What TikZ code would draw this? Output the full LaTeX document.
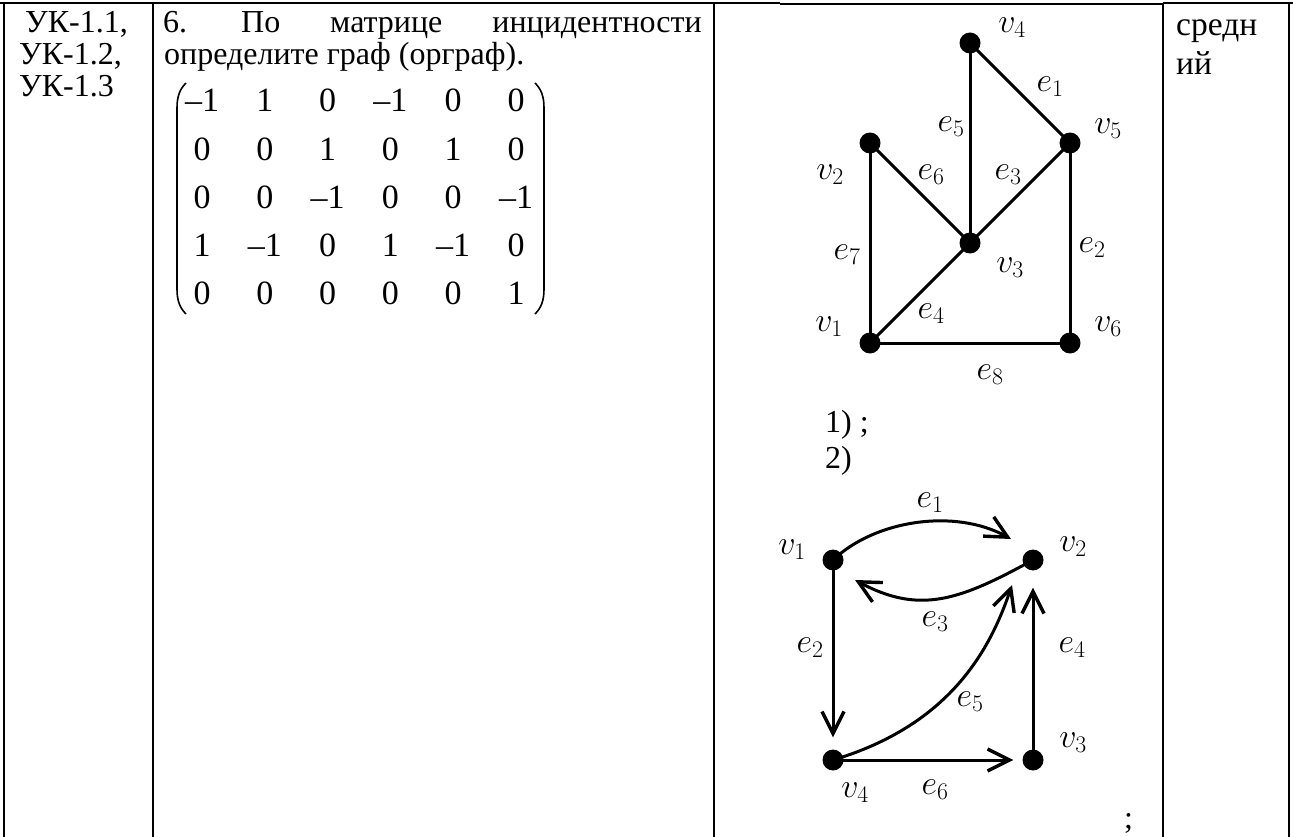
\RequirePackage{fix-cm}
\documentclass[tikz,border=0pt]{standalone}
\usepackage{fontspec}
\setmainfont{Liberation Serif}
\usetikzlibrary{arrows.meta}
\begin{document}
\begin{tikzpicture}[x=1pt,y=-1pt,
  tbl/.style={line width=2.5pt},
  tblthin/.style={line width=1.5pt},
  txt/.style={anchor=base west,inner sep=0pt,font=\fontsize{32}{34}\selectfont},
  txte/.style={anchor=base east,inner sep=0pt,font=\fontsize{32}{34}\selectfont},
  txtb/.style={anchor=base west,inner sep=0pt,font=\fontsize{33.5}{36}\selectfont},
  mtx/.style={anchor=base,inner sep=0pt,font=\fontsize{34}{38}\selectfont},
  dot/.style={circle,fill=black,inner sep=0pt,minimum size=21pt},
  lbl/.style={inner sep=0pt,font=\fontsize{34}{35}\selectfont},
  gedge/.style={line width=3pt},
  darr/.style={line width=3pt,-{Straight Barb[length=22pt,width=22pt,line width=3.4pt]}},
  paren/.style={line width=1.6pt}]
\useasboundingbox (0,0) rectangle (1293,837);
% table
\draw[tbl] (0,3) -- (780,3);
\draw[tblthin] (780,4) -- (1163,4);
\draw[tbl] (1163,3) -- (1293,3);
\foreach \x/\n in {4/a,153/b,714/c,1163/d,1289/e}
  \draw[tbl] (\x,3) coordinate (t\n) -- (\x,837) coordinate (b\n);
% column 1
\node[txt] (k1) at (25,33) {УК-1.1,};
\node[txt] (k2) at (19,65) {УК-1.2,};
\node[txt] (k3) at (19,97) {УК-1.3};
% column 2
\node[txt] (w1) at (163,33) {6.};
\node[txt] (w2) at (241,33) {По};
\node[txt] (w3) at (330,33) {матрице};
\node[txte] (w4) at (702,33) {инцидентности};
\node[txt] (w5) at (164,65) {определите граф (орграф).};
% matrix
\foreach \r [count=\i] in {{–1,1,0,–1,0,0},{0,0,1,0,1,0},{0,0,–1,0,0,–1},{1,–1,0,1,–1,0},{0,0,0,0,0,1}}
  \foreach \e [count=\j] in \r
    \node[mtx] (m\i\j) at ({139.2+62.8*\j},{63.8+48.2*\i}) {\e};
\draw[paren] (186,83) .. controls (180,89) and (177,96) .. (177,108) -- (177,289) .. controls (177,301) and (180,308) .. (186,314);
\draw[paren] (535,83) .. controls (541,89) and (544,96) .. (544,108) -- (544,289) .. controls (544,301) and (541,308) .. (535,314);
% column 4
\node[txtb] (s1) at (1176,36) {средн};
\node[txtb] (s2) at (1176,75) {ий};
% graph 1
\node[dot] (a4) at (970,43) {};
\node[dot] (a5) at (1070,143) {};
\node[dot] (a2) at (870,143) {};
\node[dot] (a3) at (970,243) {};
\node[dot] (a1) at (870,343) {};
\node[dot] (a6) at (1070,343) {};
\draw[gedge] (a4.center) -- (a5.center);
\draw[gedge] (a5.center) -- (a6.center);
\draw[gedge] (a5.center) -- (a3.center);
\draw[gedge] (a1.center) -- (a3.center);
\draw[gedge] (a4.center) -- (a3.center);
\draw[gedge] (a2.center) -- (a3.center);
\draw[gedge] (a2.center) -- (a1.center);
\draw[gedge] (a1.center) -- (a6.center);
\node[lbl] (la4) at (1012,28) {$v_4$};
\node[lbl] (la5) at (1108,129) {$v_5$};
\node[lbl] (la2) at (830,175) {$v_2$};
\node[lbl] (la3) at (1010,268) {$v_3$};
\node[lbl] (la1) at (829,327) {$v_1$};
\node[lbl] (la6) at (1108,327) {$v_6$};
\node[lbl] (le1) at (1050,87) {$e_1$};
\node[lbl] (le5) at (951,127) {$e_5$};
\node[lbl] (le6) at (931,175) {$e_6$};
\node[lbl] (le3) at (1008,175) {$e_3$};
\node[lbl] (le7) at (847,255) {$e_7$};
\node[lbl] (le2) at (1092,248) {$e_2$};
\node[lbl] (le4) at (931,314) {$e_4$};
\node[lbl] (le8) at (990,375) {$e_8$};
\node[txt] (o1) at (825,432) {1) ;};
\node[txt] (o2) at (825,468) {2)};
% graph 2
\node[dot] (b1) at (833,560) {};
\node[dot] (b2) at (1033,560) {};
\node[dot] (b4) at (833,760) {};
\node[dot] (b3) at (1033,760) {};
\coordinate (t1) at (1011,539);
\coordinate (t3) at (855,580);
\coordinate (t5) at (1012,585);
\draw[darr] (b1.center) .. controls (875,520) and (955,508) .. (t1);
\draw[darr] (b2.center) .. controls (960,600) and (920,615) .. (t3);
\draw[darr,shorten >=12pt] (b1.center) -- (b4);
\draw[darr,shorten >=17pt] (b3.center) -- (b2);
\draw[darr] (b4.center) .. controls (950,725) and (990,650) .. (t5);
\draw[darr,shorten >=9pt] (b4.center) -- (b3);
\node[lbl] (lb1) at (792,550) {$v_1$};
\node[lbl] (lb2) at (1073,547) {$v_2$};
\node[lbl] (lb3) at (1073,743) {$v_3$};
\node[lbl] (lb4) at (855,793) {$v_4$};
\node[lbl] (lf1) at (930,503) {$e_1$};
\node[lbl] (lf3) at (935,622) {$e_3$};
\node[lbl] (lf2) at (810,648) {$e_2$};
\node[lbl] (lf4) at (1072,648) {$e_4$};
\node[lbl] (lf5) at (970,702) {$e_5$};
\node[lbl] (lf6) at (935,790) {$e_6$};
\node[txt] (sc) at (1124,828) {;};
\end{tikzpicture}
\end{document}
